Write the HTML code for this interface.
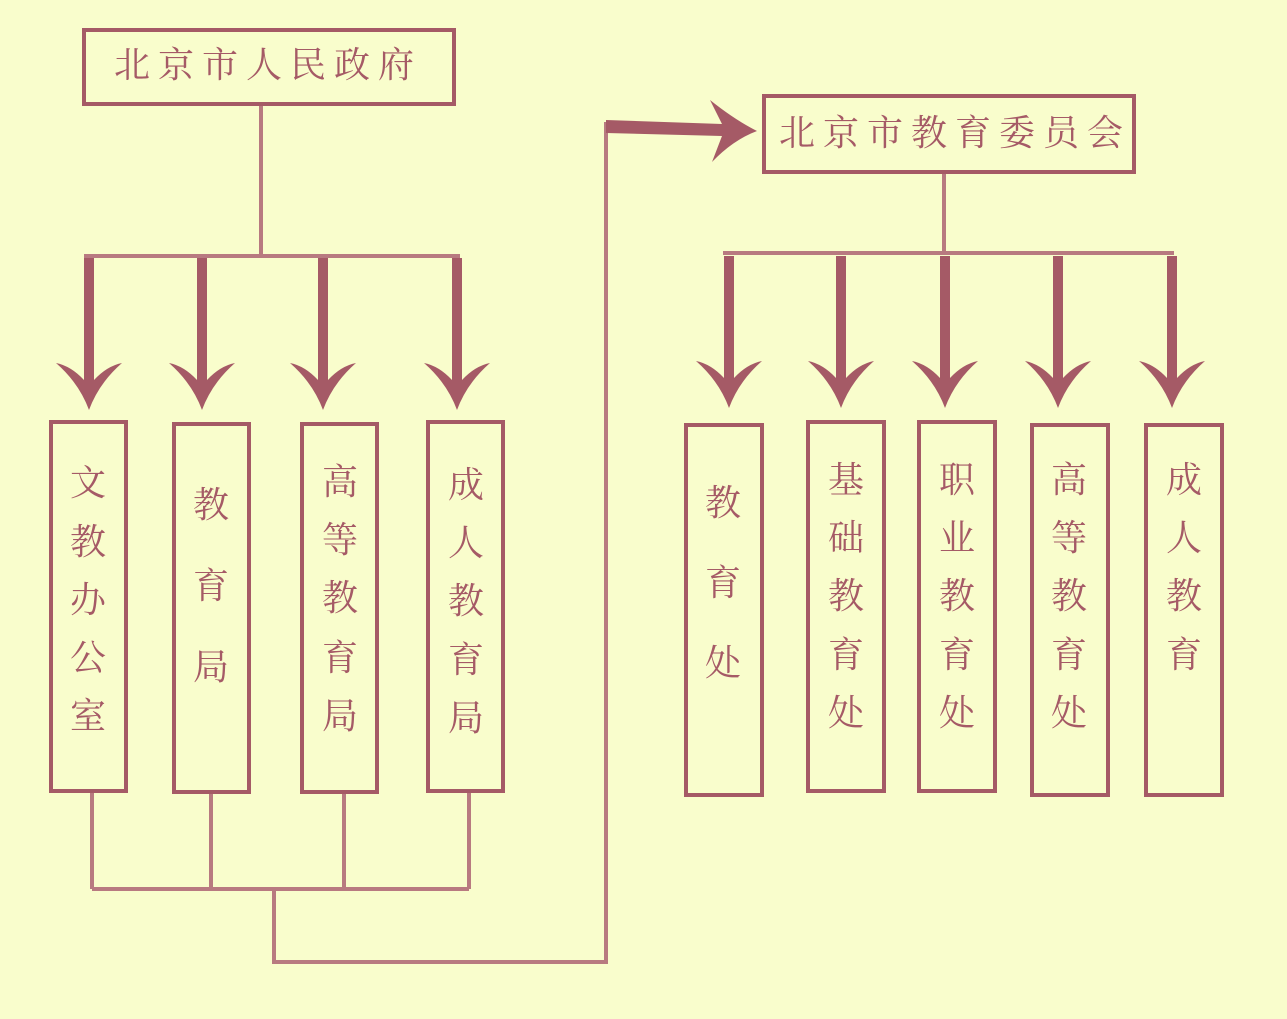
<!DOCTYPE html>
<html><head><meta charset="utf-8"><style>
html,body{margin:0;padding:0;background:#f9fdcc;}
svg{display:block;}
text{font-family:"Liberation Serif","Noto Serif CJK SC",serif;fill:#a55a66;font-size:36px;text-anchor:middle;dominant-baseline:central;}
</style></head><body>
<svg width="1287" height="1019" viewBox="0 0 1287 1019">
<rect width="1287" height="1019" fill="#f9fdcc"/>
<defs>
<path id="ar" d="M-5,0 L5,0 L5,122 Q18,108 33,105 Q10,125 0,152 Q-10,125 -33,105 Q-18,108 -5,122 Z" fill="#a55a66"/>
</defs>
<g fill="none" stroke="#b87a80" stroke-width="4">
<line x1="261" y1="104" x2="261" y2="257"/>
<line x1="84" y1="256" x2="460" y2="256"/>
<line x1="92" y1="791" x2="92" y2="889"/>
<line x1="211" y1="791" x2="211" y2="889"/>
<line x1="344" y1="791" x2="344" y2="889"/>
<line x1="469" y1="791" x2="469" y2="889"/>
<line x1="92" y1="889" x2="469" y2="889"/>
<polyline points="274,889 274,962 606,962 606,122"/>
<line x1="944" y1="172" x2="944" y2="254"/>
<line x1="723" y1="253" x2="1174" y2="253"/>
</g>
<path d="M606,120 L722,124 L710,100 Q735,120 757,131 Q733,140 712,162 L722,136 L606,133 Z" fill="#a55a66"/>
<g>
<use href="#ar" x="89" y="258"/><use href="#ar" x="202" y="258"/><use href="#ar" x="323" y="258"/><use href="#ar" x="457" y="258"/>
<use href="#ar" x="729" y="256"/><use href="#ar" x="841" y="256"/><use href="#ar" x="945" y="256"/><use href="#ar" x="1058" y="256"/><use href="#ar" x="1172" y="256"/>
</g>
<g fill="none" stroke="#a55a66" stroke-width="4">
<rect x="84" y="30" width="370" height="74"/>
<rect x="764" y="96" width="370" height="76"/>
<rect x="51" y="422" width="75" height="369"/>
<rect x="174" y="424" width="75" height="368"/>
<rect x="302" y="424" width="75" height="368"/>
<rect x="428" y="422" width="75" height="369"/>
<rect x="686" y="425" width="76" height="370"/>
<rect x="808" y="422" width="76" height="369"/>
<rect x="919" y="422" width="76" height="369"/>
<rect x="1032" y="425" width="76" height="370"/>
<rect x="1146" y="425" width="76" height="370"/>
</g>
<text x="268" y="65" style="letter-spacing:8px">北京市人民政府</text>
<text x="955" y="133" style="letter-spacing:8px">北京市教育委员会</text>
<g>
<text x="88" y="483">文</text><text x="88" y="542">教</text><text x="88" y="600">办</text><text x="88" y="658">公</text><text x="88" y="716">室</text>
<text x="211" y="505">教</text><text x="211" y="586">育</text><text x="211" y="667">局</text>
<text x="340" y="482">高</text><text x="340" y="540">等</text><text x="340" y="598">教</text><text x="340" y="658">育</text><text x="340" y="716">局</text>
<text x="466" y="485">成</text><text x="466" y="543">人</text><text x="466" y="601">教</text><text x="466" y="660">育</text><text x="466" y="718">局</text>
<text x="723" y="503">教</text><text x="723" y="583">育</text><text x="723" y="663">处</text>
<text x="846" y="480">基</text><text x="846" y="538">础</text><text x="846" y="596">教</text><text x="846" y="655">育</text><text x="846" y="713">处</text>
<text x="957" y="480">职</text><text x="957" y="538">业</text><text x="957" y="596">教</text><text x="957" y="655">育</text><text x="957" y="713">处</text>
<text x="1069" y="480">高</text><text x="1069" y="538">等</text><text x="1069" y="596">教</text><text x="1069" y="655">育</text><text x="1069" y="713">处</text>
<text x="1184" y="480">成</text><text x="1184" y="538">人</text><text x="1184" y="596">教</text><text x="1184" y="655">育</text>
</g>
</svg>
</body></html>
